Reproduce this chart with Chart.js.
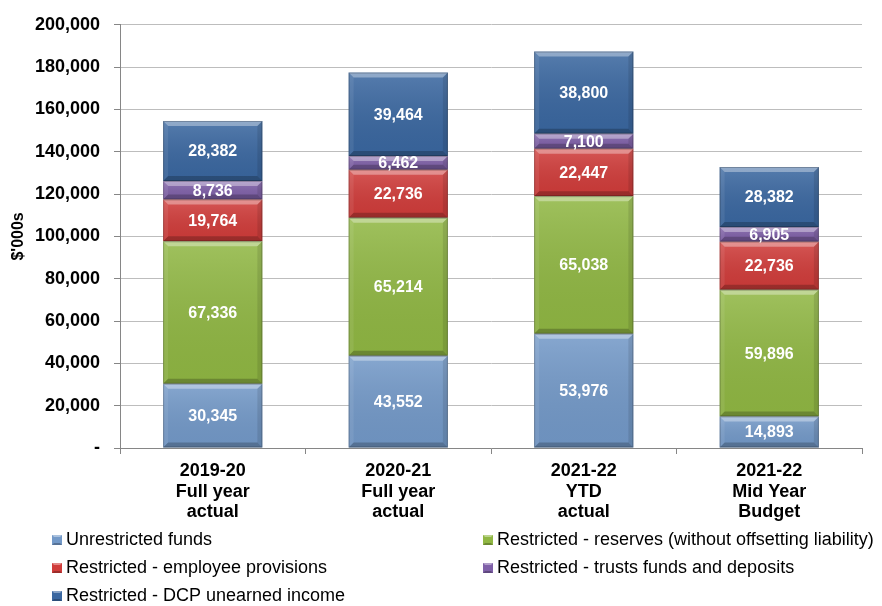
<!DOCTYPE html>
<html>
<head>
<meta charset="utf-8">
<script src="https://cdn.jsdelivr.net/npm/chart.js@4/dist/chart.umd.min.js"></script>
<style>
  html, body { margin: 0; padding: 0; background: #fff; }
  #wrap { width: 882px; height: 606px; position: relative; }
</style>
</head>
<body>
<div id="wrap"><canvas id="funds-chart" width="882" height="606"></canvas></div>
<script>
// -------------------- Data --------------------
const categories = [
    ["2019-20", "Full year", "actual"],
    ["2020-21", "Full year", "actual"],
    ["2021-22", "YTD", "actual"],
    ["2021-22", "Mid Year", "Budget"]
];
const unrestricted = [30345, 43552, 53976, 14893];
const reserves     = [67336, 65214, 65038, 59896];
const employee     = [19764, 22736, 22447, 22736];
const trusts       = [8736, 6462, 7100, 6905];
const dcpIncome    = [28382, 39464, 38800, 28382];

const seriesNames = [
    "Unrestricted funds",
    "Restricted - reserves (without offsetting liability)",
    "Restricted - employee provisions",
    "Restricted - trusts funds and deposits",
    "Restricted - DCP unearned income"
];
const seriesColors = ['#7399C8', '#90B743', '#D03C3A', '#7F60A8', '#3A67A0'];
const yTicks = [0, 20000, 40000, 60000, 80000, 100000, 120000, 140000, 160000, 180000, 200000];

const FONT = "'Liberation Sans', Arial, sans-serif";
const fmt = v => v.toLocaleString('en-US');

// -------------------- Plugins --------------------
// bevelled edges + soft vertical shading on each bar segment
const bevelPlugin = {
    id: 'bevel',
    afterDatasetsDraw(chart) {
        const ctx = chart.ctx;
        chart.data.datasets.forEach((ds, i) => {
            chart.getDatasetMeta(i).data.forEach(bar => {
                const p = bar.getProps(['x', 'y', 'base', 'width'], true);
                const l = p.x - p.width / 2, r = p.x + p.width / 2;
                const t = Math.min(p.y, p.base), btm = Math.max(p.y, p.base);
                const b = Math.min(5, (btm - t) / 2);
                const poly = (pts, fill) => {
                    ctx.beginPath();
                    ctx.moveTo(pts[0][0], pts[0][1]);
                    pts.slice(1).forEach(q => ctx.lineTo(q[0], q[1]));
                    ctx.closePath();
                    ctx.fillStyle = fill;
                    ctx.fill();
                };
                ctx.save();
                const g = ctx.createLinearGradient(0, t, 0, btm);
                g.addColorStop(0, 'rgba(255,255,255,0.14)');
                g.addColorStop(1, 'rgba(0,0,0,0.05)');
                ctx.fillStyle = g;
                ctx.fillRect(l, t, p.width, btm - t);
                poly([[l, t], [r, t], [r - b, t + b], [l + b, t + b]], 'rgba(255,255,255,0.35)');
                poly([[l, t], [l + b, t + b], [l + b, btm - b], [l, btm]], 'rgba(255,255,255,0.08)');
                poly([[r, t], [r, btm], [r - b, btm - b], [r - b, t + b]], 'rgba(0,0,0,0.10)');
                poly([[l, btm], [l + b, btm - b], [r - b, btm - b], [r, btm]], 'rgba(0,0,0,0.22)');
                ctx.strokeStyle = 'rgba(0,0,0,0.22)';
                ctx.lineWidth = 1;
                ctx.strokeRect(l + 0.5, t + 0.5, p.width - 1, btm - t - 1);
                ctx.restore();
            });
        });
    }
};

// white value labels in the middle of each segment
const valueLabels = {
    id: 'valueLabels',
    afterDatasetsDraw(chart) {
        const ctx = chart.ctx;
        ctx.save();
        ctx.font = "bold 16px " + FONT;
        ctx.fillStyle = '#fff';
        ctx.textAlign = 'center';
        ctx.textBaseline = 'middle';
        chart.data.datasets.forEach((ds, i) => {
            chart.getDatasetMeta(i).data.forEach((bar, j) => {
                const p = bar.getProps(['x', 'y', 'base'], true);
                ctx.fillText(fmt(ds.data[j]), p.x, (p.y + p.base) / 2 + 1);
            });
        });
        ctx.restore();
    }
};

// two-column legend under the axis
const legendBlock = {
    id: 'legendBlock',
    afterDraw(chart) {
        const ctx = chart.ctx;
        const cols = [52, 483];
        const rows = [540, 568, 596];
        ctx.save();
        ctx.font = "18px " + FONT;
        ctx.textBaseline = 'middle';
        ctx.textAlign = 'left';
        chart.data.datasets.forEach((ds, i) => {
            const x = cols[i % 2], y = rows[Math.floor(i / 2)];
            ctx.fillStyle = ds.backgroundColor;
            ctx.fillRect(x, y - 5, 10, 10);
            ctx.fillStyle = 'rgba(255,255,255,0.4)';
            ctx.beginPath();
            ctx.moveTo(x, y - 5); ctx.lineTo(x + 10, y - 5); ctx.lineTo(x + 8, y - 3); ctx.lineTo(x + 2, y - 3);
            ctx.closePath(); ctx.fill();
            ctx.fillStyle = 'rgba(0,0,0,0.25)';
            ctx.beginPath();
            ctx.moveTo(x, y + 5); ctx.lineTo(x + 10, y + 5); ctx.lineTo(x + 8, y + 3); ctx.lineTo(x + 2, y + 3);
            ctx.closePath(); ctx.fill();
            ctx.fillStyle = '#000';
            ctx.fillText(ds.label, x + 14, y);
        });
        ctx.restore();
    }
};

// -------------------- Chart --------------------
const seriesData = [unrestricted, reserves, employee, trusts, dcpIncome];

new Chart(document.getElementById('funds-chart'), {
    type: 'bar',
    data: {
        labels: categories,
        datasets: seriesData.map((d, i) => ({
            label: seriesNames[i],
            data: d,
            backgroundColor: seriesColors[i],
            borderWidth: 0,
            categoryPercentage: 1,
            barPercentage: 0.535
        }))
    },
    options: {
        responsive: false,
        animation: false,
        layout: { padding: { top: 20, right: 20, bottom: 78, left: 9 } },
        plugins: { legend: { display: false }, tooltip: { enabled: false } },
        scales: {
            x: {
                stacked: true,
                grid: { display: true, drawOnChartArea: false, offset: true, color: '#868686', tickLength: 6 },
                border: { color: '#868686' },
                ticks: {
                    color: '#000',
                    font: { family: FONT, size: 18, weight: 'bold', lineHeight: 1.14 },
                    padding: 7,
                    maxRotation: 0
                },
                afterFit: s => { s.height = 80; }
            },
            y: {
                stacked: true,
                min: 0,
                max: 200000,
                afterBuildTicks: s => { s.ticks = yTicks.map(v => ({ value: v })); },
                grid: { color: '#BDBDBD', tickLength: 6, tickColor: '#868686' },
                border: { color: '#868686' },
                ticks: {
                    color: '#000',
                    font: { family: FONT, size: 18, weight: 'bold' },
                    padding: 14,
                    callback: v => v === 0 ? '-' : fmt(v)
                },
                title: {
                    display: true,
                    text: "$'000s",
                    color: '#000',
                    font: { family: FONT, size: 16, weight: 'bold' },
                    padding: 0
                },
                afterFit: s => { s.width = 111; }
            }
        }
    },
    plugins: [bevelPlugin, valueLabels, legendBlock]
});
</script>
</body>
</html>
